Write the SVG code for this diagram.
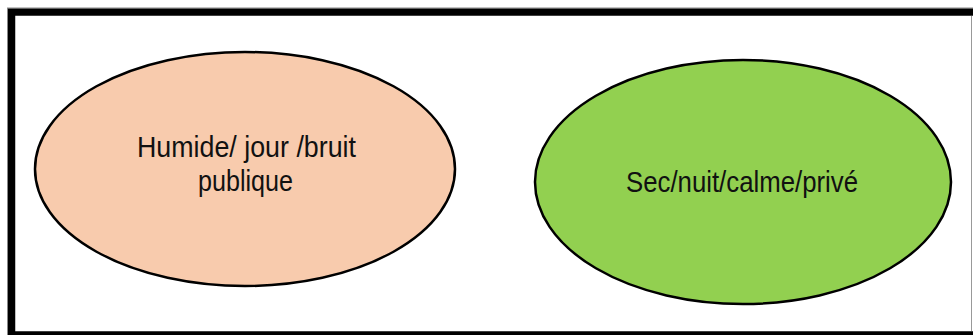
<svg xmlns="http://www.w3.org/2000/svg" width="973" height="335" viewBox="0 0 973 335">
  <style>
    .zone { stroke: #000; stroke-width: 2.5; }
    .label { font-family: "Liberation Sans", Arial, sans-serif; font-size: 29px; fill: #111; text-anchor: middle; }
  </style>
  <rect width="973" height="335" fill="#fff"/>
  <!-- frame -->
  <rect x="11.5" y="12" width="970" height="323" fill="none" stroke="#000" stroke-width="7.5"/>
  <rect x="7.5" y="8" width="978" height="340" fill="none" stroke="#888" stroke-width="1"/>
  <line x1="971.5" y1="16" x2="971.5" y2="331" stroke="#999" stroke-width="1"/>
  <rect x="972" y="16" width="1" height="315" fill="#fff"/>

  <g id="zone-jour">
    <ellipse class="zone" cx="245" cy="169" rx="210" ry="117" fill="#F8CBAD"/>
    <text class="label" x="246.5" y="157" textLength="219" lengthAdjust="spacingAndGlyphs">Humide/ jour /bruit</text>
    <text class="label" x="245.5" y="191" textLength="95" lengthAdjust="spacingAndGlyphs">publique</text>
  </g>

  <g id="zone-nuit">
    <ellipse class="zone" cx="743" cy="182" rx="208" ry="122" fill="#92D050"/>
    <text class="label" x="742" y="192" textLength="232" lengthAdjust="spacingAndGlyphs">Sec/nuit/calme/privé</text>
  </g>

  <g id="connectors"/>
</svg>
